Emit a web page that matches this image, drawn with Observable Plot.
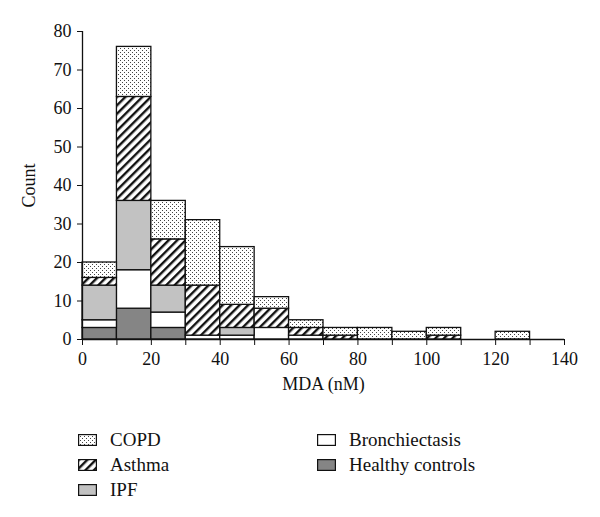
<!DOCTYPE html>
<html><head><meta charset="utf-8">
<script src="https://cdn.jsdelivr.net/npm/d3@7"></script>
<script src="https://cdn.jsdelivr.net/npm/@observablehq/plot@0.6"></script>
<style>
body{margin:0;background:#fff;font-family:"Liberation Serif","DejaVu Serif",serif;}
#legend{position:relative;height:97px;font-size:19px;color:#111;}
.item{position:absolute;display:flex;align-items:center;height:20px;}
.item svg{margin-right:13px;}
</style></head><body>
<div id="chart"></div>
<div id="legend"></div>
<script>
// Data
const binStarts = [0,10,20,30,40,50,60,70,80,90,100,110,120,130];
const binWidth = 10;
const seriesOrder = ["Healthy controls","Bronchiectasis","IPF","Asthma","COPD"];
const healthy = [3,8,3,0,0,0,0,0,0,0,0,0,0,0];
const bronchiectasis = [2,10,4,1,1,3,1,0,0,0,0,0,0,0];
const ipf = [9,18,7,0,2,0,0,0,0,0,0,0,0,0];
const asthma = [2,27,12,13,6,5,2,1,0,0,1,0,0,0];
const copd = [4,13,10,17,15,3,2,2,3,2,2,0,2,0];
const xTicks = [0,10,20,30,40,50,60,70,80,90,100,110,120,130,140];
const yTicks = [0,10,20,30,40,50,60,70,80];
const legendCol1 = ["COPD","Asthma","IPF"];
const legendCol2 = ["Bronchiectasis","Healthy controls"];

const valuesBySeries = {"Healthy controls": healthy, "Bronchiectasis": bronchiectasis, "IPF": ipf, "Asthma": asthma, "COPD": copd};
const fills = {"Healthy controls":"#858585","Bronchiectasis":"#ffffff","IPF":"#c2c2c2","Asthma":"url(#hatch)","COPD":"url(#dots)"};

const rows = [];
for (const s of seriesOrder) {
  valuesBySeries[s].forEach((v, i) => {
    if (v > 0) rows.push({series: s, x1: binStarts[i], x2: binStarts[i] + binWidth, count: v});
  });
}

const chart = Plot.plot({
  width: 600,
  height: 420,
  marginLeft: 82,
  marginRight: 36,
  marginTop: 31,
  marginBottom: 81,
  style: {fontSize: "18px", fontFamily: "'Liberation Serif', serif", color: "#111", background: "#fff"},
  x: {domain: [0, 140]},
  y: {domain: [0, 80]},
  color: {domain: seriesOrder, range: seriesOrder.map(s => fills[s])},
  marks: [
    Plot.rectY(rows, Plot.stackY({x1: "x1", x2: "x2", y: "count", fill: "series", order: seriesOrder, stroke: "#111", strokeWidth: 1.3})),
    Plot.ruleX([0], {stroke: "#111", strokeWidth: 1.3}),
    Plot.ruleY([0], {stroke: "#111", strokeWidth: 1.3}),
    Plot.axisY({ticks: yTicks, tickSize: 5, tickPadding: 6, label: "Count", labelAnchor: "center", labelArrow: "none", labelOffset: 60}),
    Plot.axisX({ticks: xTicks, tickSize: 6, tickPadding: 7, tickFormat: d => d % 20 === 0 ? String(d) : "", label: "MDA (nM)", labelAnchor: "center", labelArrow: "none", labelOffset: 50})
  ]
});

const ns = "http://www.w3.org/2000/svg";
const defs = document.createElementNS(ns, "defs");
defs.innerHTML = `
<pattern id="dots" patternUnits="userSpaceOnUse" width="4" height="4">
  <rect width="4" height="4" fill="#fff"/>
  <rect x="0" y="0" width="1" height="1" fill="#444"/>
  <rect x="2" y="2" width="1" height="1" fill="#444"/>
</pattern>
<pattern id="hatch" patternUnits="userSpaceOnUse" width="6" height="6" patternTransform="rotate(45)">
  <rect width="6" height="6" fill="#fff"/>
  <rect x="0" y="0" width="2.4" height="6" fill="#111"/>
</pattern>`;
chart.insertBefore(defs, chart.firstChild);
document.getElementById("chart").appendChild(chart);

const legend = document.getElementById("legend");
function addItem(name, left, top) {
  const d = document.createElement("div");
  d.className = "item";
  d.style.left = left + "px";
  d.style.top = top + "px";
  d.innerHTML = `<svg width="19" height="12"><rect x="0.6" y="0.6" width="17.8" height="10.8" fill="${fills[name]}" stroke="#111" stroke-width="1.2"/></svg><span>${name}</span>`;
  legend.appendChild(d);
}
legendCol1.forEach((n, i) => addItem(n, 78, 10 + i * 25));
legendCol2.forEach((n, i) => addItem(n, 317, 10 + i * 25));
</script>
</body></html>
